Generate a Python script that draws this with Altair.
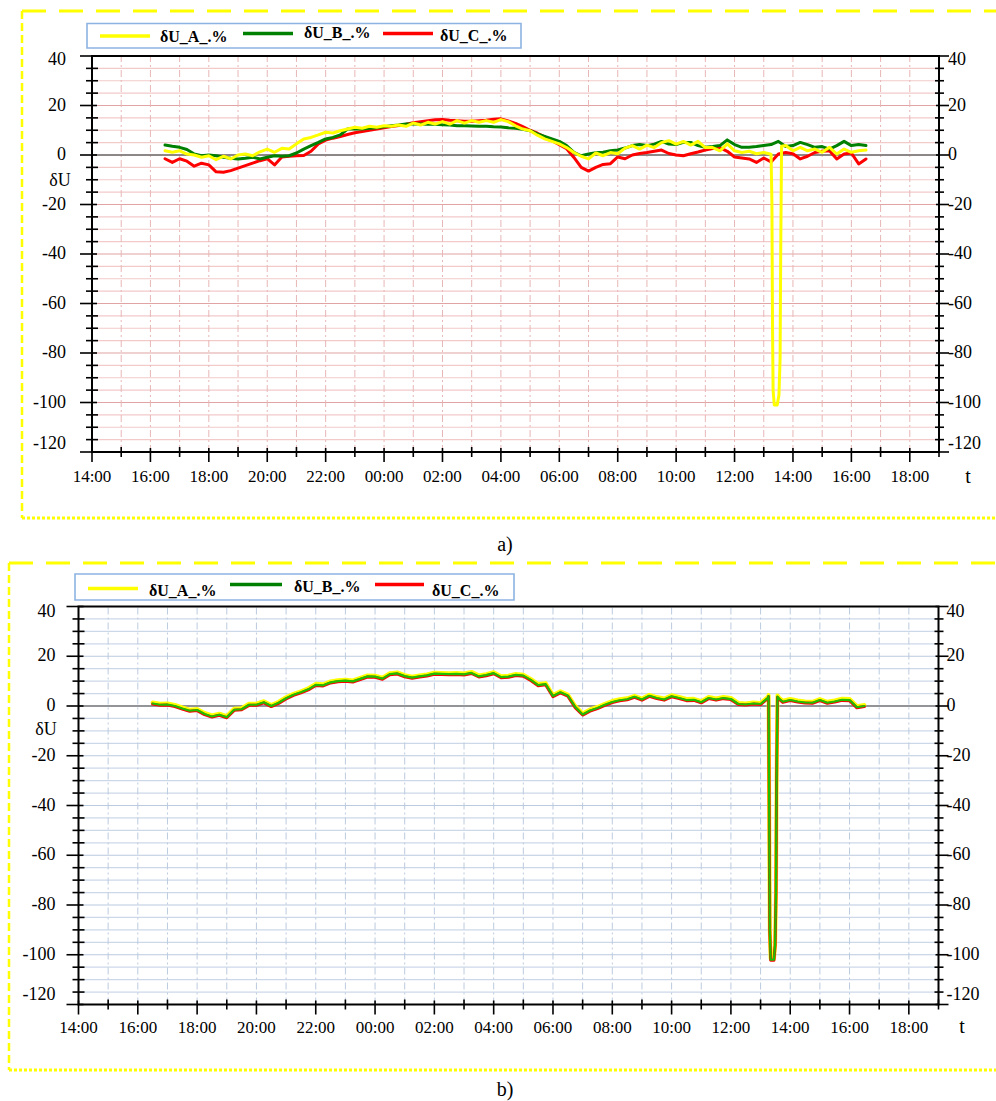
import altair as alt
import pandas as pd

FONT = "Liberation Serif, Times New Roman, DejaVu Serif, serif"

# Logger clock: first reading at 16:30, one reading every 15 minutes.
# Hours are counted from midnight of the first day (25.0 = 01:00 next day).
START_H = 16.5
STEP_H = 0.25

# ---------------- a) deviations of phase voltages, % ----------------
# one row = one hour of readings
DU_A_PANEL_A = [
    1.7, 1.1, 1.7, 0.4,
    0.0, -0.9, -0.3, -1.9,
    -0.5, -1.6, 0.0, 0.4,
    -0.3, 1.3, 2.4, 1.1,
    2.7, 2.4, 4.5, 6.5,
    7.1, 8.1, 9.2, 8.9,
    9.8, 10.5, 11.2, 10.8,
    11.6, 11.2, 11.8, 11.6,
    12.1, 11.6, 12.9, 12.1,
    13.2, 12.5, 13.5, 12.5,
    13.9, 12.9, 13.9, 13.2,
    13.9, 13.2, 14.3, 13.5,
    11.8, 10.5, 9.8, 8.0,
    6.5, 5.5, 4.5, 3.0,
    1.0, -0.5, -1.6, 0.8,
    -0.3, 1.0, 0.5, 2.8,
    3.8, 2.4, 4.0, 3.0,
    5.0, 5.8, 4.4, 5.5,
    4.0, 5.5, 3.0, 3.0,
    1.7, 4.5, 1.7, 1.0,
    1.5, 0.5, 1.0, 0.3,
    None, 3.8, 1.7, 3.1,
    1.7, 2.4, 1.1, 3.1,
    0.4, 2.4, 1.1, 1.7,
    2.0,
]
# supply interruption on phase A (extra readings)
DIP_A_PANEL_A_H = [37.28, 37.30, 37.32, 37.36, 37.46, 37.52, 37.56, 37.58, 37.61]
DIP_A_PANEL_A_V = [-20, -70, -95, -101, -101, -97, -82, -40, 3.5]

DU_B_PANEL_A = [
    4.0, 3.5, 3.1, 2.2,
    0.4, -0.3, 0.0, -0.3,
    -0.9, -1.3, -1.6, -1.3,
    -0.9, -1.6, -0.9, -0.3,
    -0.5, -0.3, 0.8, 2.4,
    3.8, 5.1, 6.5, 7.1,
    8.1, 10.5, 10.5, 10.5,
    10.8, 11.0, 11.4, 11.8,
    12.1, 12.5, 12.5, 12.5,
    12.4, 12.4, 12.2, 12.1,
    11.8, 11.8, 11.7, 11.6,
    11.6, 11.4, 11.3, 11.0,
    10.8, 10.4, 9.8, 8.5,
    7.5, 6.5, 5.5, 3.8,
    1.1, -0.3, 0.4, 0.9,
    1.1, 1.7, 2.0, 2.8,
    3.8, 4.2, 3.8, 4.4,
    5.5, 4.4, 4.2, 5.1,
    5.1, 3.8, 3.1, 3.4,
    3.8, 6.1, 4.2, 3.1,
    3.1, 3.4, 3.8, 4.2,
    5.5, 3.4, 3.8, 5.1,
    4.2, 3.1, 3.4, 2.4,
    3.8, 5.5, 3.8, 4.2,
    3.8,
]

DU_C_PANEL_A = [
    -1.5, -3.0, -1.5, -2.5,
    -4.5, -3.3, -4.0, -6.8,
    -7.0, -6.3, -5.3, -4.3,
    -3.3, -2.3, -1.5, -4.0,
    -0.8, -0.5, -0.3, -0.2,
    1.5, 4.5, 6.0, 6.8,
    7.5, 8.3, 9.0, 9.5,
    10.0, 10.5, 11.0, 11.5,
    11.9, 12.4, 13.0, 13.4,
    13.8, 14.2, 14.3, 14.0,
    13.8, 13.6, 13.6, 13.8,
    14.0, 14.4, 14.6, 13.8,
    12.8, 11.5, 10.0, 8.8,
    7.3, 5.8, 4.2, 2.5,
    -1.0, -5.0, -6.5, -5.0,
    -3.8, -3.5, -0.8, -1.5,
    0.0, 0.6, 1.0, 1.5,
    2.0, 0.6, 0.0, -0.3,
    0.5, 1.2, 2.0, 2.6,
    3.0, 1.5, -0.8, -1.2,
    -1.6, -3.0, -1.2, -2.8,
    0.4, 1.0, 0.5, -1.6,
    -0.5, 1.0, 1.5, 1.7,
    -1.6, 0.4, 0.8, -3.6,
    -1.6,
]

# ---------------- b) after correction: the three phases coincide ----------------
DU_PANEL_B = [
    1.0, 0.5, 0.6, 0.0,
    -1.0, -1.9, -1.6, -3.2,
    -4.2, -3.5, -4.5, -1.5,
    -1.3, 0.5, 0.5, 1.5,
    0.0, 1.3, 3.1, 4.5,
    5.5, 6.7, 8.5, 8.3,
    9.5, 10.0, 10.2, 9.9,
    10.9, 11.9, 11.8, 11.0,
    12.8, 13.1, 12.0, 11.4,
    11.9, 12.3, 13.0, 12.9,
    12.8, 12.9, 12.7, 13.3,
    11.9, 12.4, 13.2, 11.6,
    11.8, 12.5, 12.2, 10.5,
    8.4, 8.8, 4.0, 5.5,
    4.2, -0.4, -3.4, -1.8,
    -0.8, 0.5, 1.6, 2.3,
    2.7, 3.7, 2.6, 4.1,
    3.2, 2.6, 3.9, 3.2,
    2.4, 2.5, 1.5, 3.2,
    2.6, 3.2, 2.8, 0.8,
    0.6, 1.0, 0.8, 3.3,
    None, 1.7, 2.4, 1.8,
    1.4, 1.3, 2.4, 1.3,
    1.8, 2.5, 2.4, -0.5,
    0.0,
]
DIP_PANEL_B_H = [37.27, 37.29, 37.31, 37.34, 37.45, 37.49, 37.52, 37.54, 37.57, 37.62]
DIP_PANEL_B_V = [4.0, -40, -90, -102, -102, -96, -75, -30, 3.8, 3.0]

# ---------------- axes ----------------
X_DOMAIN = [14, 43]
Y_DOMAIN = [-120, 40]
HOUR_TICKS = list(range(14, 44))
LABEL_HOURS = list(range(14, 43, 2))
LABEL_TEXT = ["14:00", "16:00", "18:00", "20:00", "22:00", "00:00", "02:00", "04:00",
              "06:00", "08:00", "10:00", "12:00", "14:00", "16:00", "18:00"]
Y_MAJOR = [40, 20, 0, -20, -40, -60, -80, -100, -120]
Y_MINOR = [v for v in range(-115, 40, 5) if v % 20 != 0]

ONE = pd.DataFrame({"k": [0]})


def series_frame(values, dip_h=(), dip_v=()):
    hours = [START_H + STEP_H * i for i in range(len(values))]
    rows = [(h, v) for h, v in zip(hours, values) if v is not None]
    rows += list(zip(dip_h, dip_v))
    rows.sort()
    return pd.DataFrame(rows, columns=["h", "v"])


def panel(cfg, series):
    xs = alt.Scale(domain=X_DOMAIN, range=[cfg["left"], cfg["right"]], nice=False, zero=False)
    ys = alt.Scale(domain=Y_DOMAIN, range=[cfg["bottom"], cfg["top"]], nice=False, zero=False)

    def X(field="h"):
        return alt.X(f"{field}:Q", scale=xs, axis=None)

    def Y(field="v"):
        return alt.Y(f"{field}:Q", scale=ys, axis=None)

    def XD(val):
        return alt.XDatum(val, type="quantitative", scale=xs, axis=None)

    def YD(val):
        return alt.YDatum(val, type="quantitative", scale=ys, axis=None)

    layers = []
    # horizontal grid every 5 %, darker every 20 %
    hg_major = [v for v in Y_MAJOR if -120 < v < 40]
    layers.append(alt.Chart(pd.DataFrame({"v": Y_MINOR})).mark_rule(
        color=cfg["hgrid_minor"], strokeWidth=1.2).encode(y=Y(), x=XD(14), x2=alt.datum(43)))
    layers.append(alt.Chart(pd.DataFrame({"v": hg_major})).mark_rule(
        color=cfg["hgrid_major"], strokeWidth=1.2).encode(y=Y(), x=XD(14), x2=alt.datum(43)))
    # vertical dashed grid every hour
    layers.append(alt.Chart(pd.DataFrame({"h": HOUR_TICKS[1:-1]})).mark_rule(
        color=cfg["vgrid"], strokeWidth=1, strokeDash=[7, 3, 2, 3]).encode(
        x=X(), y=YD(-120), y2=alt.datum(40)))
    # zero line
    layers.append(alt.Chart(ONE).mark_rule(color=cfg["zero"], strokeWidth=1.6).encode(
        y=YD(0), x=XD(14), x2=alt.datum(43)))
    # measured series
    for frame, color, width, yoff in series:
        layers.append(alt.Chart(frame).mark_line(
            color=color, strokeWidth=width, yOffset=yoff, strokeJoin="round", strokeCap="round").encode(
            x=X(), y=Y(), order=alt.Order("h:Q")))
    # plot frame
    layers.append(alt.Chart(ONE).mark_rect(fillOpacity=0, stroke="black", strokeWidth=2).encode(
        x=XD(14), x2=alt.datum(43), y=YD(-120), y2=alt.datum(40)))
    # left / right ticks crossing the axis lines
    maj = pd.DataFrame({"v": Y_MAJOR})
    mnr = pd.DataFrame({"v": Y_MINOR})
    layers.append(alt.Chart(maj).mark_rule(color="black", strokeWidth=1.6, xOffset=-12, x2Offset=5).encode(
        y=Y(), x=XD(14), x2=alt.datum(14)))
    layers.append(alt.Chart(mnr).mark_rule(color="black", strokeWidth=1.6, xOffset=-6, x2Offset=6).encode(
        y=Y(), x=XD(14), x2=alt.datum(14)))
    layers.append(alt.Chart(maj).mark_rule(color="black", strokeWidth=1.6, xOffset=-3, x2Offset=10).encode(
        y=Y(), x=XD(43), x2=alt.datum(43)))
    layers.append(alt.Chart(mnr).mark_rule(color="black", strokeWidth=1.6, xOffset=-4, x2Offset=5).encode(
        y=Y(), x=XD(43), x2=alt.datum(43)))
    # bottom ticks: every hour, longer on labelled hours
    even = pd.DataFrame({"h": [h for h in HOUR_TICKS if h % 2 == 0]})
    odd = pd.DataFrame({"h": [h for h in HOUR_TICKS if h % 2 == 1]})
    layers.append(alt.Chart(even).mark_rule(color="black", strokeWidth=1.6, yOffset=-4, y2Offset=10).encode(
        x=X(), y=YD(-120), y2=alt.datum(-120)))
    layers.append(alt.Chart(odd).mark_rule(color="black", strokeWidth=1.6, yOffset=-5, y2Offset=5).encode(
        x=X(), y=YD(-120), y2=alt.datum(-120)))
    # y tick labels on both sides (end labels kept inside the frame height)
    ylab = pd.DataFrame({"v": Y_MAJOR, "lab": [str(v) for v in Y_MAJOR]})
    for xval, align, dx in ((14, "right", cfg["ldx"]), (43, "left", cfg["rdx"])):
        for cond, dy in (("datum.v == 40", cfg["topdy"]),
                         ("datum.v == -120", cfg["botdy"]),
                         ("datum.v > -120 && datum.v < 40", 0)):
            layers.append(alt.Chart(ylab).transform_filter(cond).mark_text(
                font=FONT, fontSize=18, align=align, baseline="middle", dx=dx, dy=dy, color="black").encode(
                y=Y(), x=XD(xval), text="lab:N"))
    # time labels
    xlab = pd.DataFrame({"h": LABEL_HOURS, "lab": LABEL_TEXT})
    layers.append(alt.Chart(xlab).mark_text(
        font=FONT, fontSize=17, align="center", baseline="middle", dy=cfg["xdy"], color="black").encode(
        x=X(), y=YD(-120), text="lab:N"))
    return alt.layer(*layers)


def hline(x1, x2, y, **mk):
    return alt.Chart(ONE).mark_rule(**mk).encode(x=alt.value(x1), x2=alt.value(x2), y=alt.value(y))


def vline(x, y1, y2, **mk):
    return alt.Chart(ONE).mark_rule(**mk).encode(x=alt.value(x), y=alt.value(y1), y2=alt.value(y2))


def text_at(x, y, text, **mk):
    return alt.Chart(ONE).mark_text(**mk).encode(x=alt.value(x), y=alt.value(y), text=alt.value(text))


def legend(box, items):
    x1, x2, y1, y2 = box
    parts = [alt.Chart(ONE).mark_rect(fill="white", stroke="#8DB3E2", strokeWidth=1.6).encode(
        x=alt.value(x1), x2=alt.value(x2), y=alt.value(y1), y2=alt.value(y2))]
    for (lx1, lx2, ly, color, tx, ty, label) in items:
        parts.append(hline(lx1, lx2, ly, color=color, strokeWidth=3.5))
        parts.append(text_at(tx, ty, label, font=FONT, fontSize=16, fontWeight="bold",
                             align="left", baseline="middle", color="black"))
    return parts


CFG_A = dict(left=92, right=939, top=56, bottom=452,
             hgrid_minor="#F2CACA", hgrid_major="#E0A4A4", vgrid="#E8B6B6", zero="#6E6E6E",
             ldx=-26, rdx=9, topdy=4, botdy=-8, xdy=25)
CFG_B = dict(left=78.5, right=938.5, top=606.5, bottom=1004.5,
             hgrid_minor="#CCD8E8", hgrid_major="#BACADF", vgrid="#BCCBDF", zero="#7A7A7A",
             ldx=-23, rdx=8, topdy=5, botdy=-10, xdy=23)

panel_a = panel(CFG_A, [
    (series_frame(DU_C_PANEL_A), "#FF0000", 3, 0),
    (series_frame(DU_B_PANEL_A), "#008000", 3, 0),
    (series_frame(DU_A_PANEL_A, DIP_A_PANEL_A_H, DIP_A_PANEL_A_V), "#FFFF00", 3, 0),
])

frame_b = series_frame(DU_PANEL_B, DIP_PANEL_B_H, DIP_PANEL_B_V)
panel_b = panel(CFG_B, [
    (frame_b, "#FFFF00", 4, -1),
    (frame_b, "#FF0000", 3, 0.6),
    (frame_b, "#1FBF00", 2.2, 0),
])

YELLOW = "#FFFF00"
decor = [
    # dashed frames around both figures
    hline(22, 996, 11, color=YELLOW, strokeWidth=3, strokeDash=[24, 13]),
    vline(22, 11, 518, color=YELLOW, strokeWidth=2.5, strokeDash=[8, 4]),
    hline(22, 996, 518, color=YELLOW, strokeWidth=3, strokeDash=[3, 2]),
    hline(9, 996, 563, color=YELLOW, strokeWidth=3, strokeDash=[24, 13]),
    vline(9, 563, 1070, color=YELLOW, strokeWidth=2.5, strokeDash=[8, 4]),
    hline(9, 996, 1070, color=YELLOW, strokeWidth=3, strokeDash=[3, 2]),
    # axis titles
    text_at(60, 181, "δU", font=FONT, fontSize=18, align="center", baseline="middle", color="black"),
    text_at(968, 477, "t", font=FONT, fontSize=20, align="center", baseline="middle", color="black"),
    text_at(46, 730, "δU", font=FONT, fontSize=18, align="center", baseline="middle", color="black"),
    text_at(962, 1027, "t", font=FONT, fontSize=20, align="center", baseline="middle", color="black"),
    # figure captions
    text_at(505, 545, "a)", font=FONT, fontSize=20, align="center", baseline="middle", color="black"),
    text_at(505, 1090, "b)", font=FONT, fontSize=20, align="center", baseline="middle", color="black"),
]
decor += legend((87, 521, 23.5, 48), [
    (100, 150, 36, "#FFFF00", 160, 37, "δU_A_.%"),
    (243, 293, 33.5, "#008000", 304, 33, "δU_B_.%"),
    (383, 433, 33.5, "#FF0000", 440, 36, "δU_C_.%"),
])
decor += legend((75, 514, 574, 600), [
    (88, 138, 588.5, "#FFFF00", 149, 591, "δU_A_.%"),
    (230, 282, 584.5, "#008000", 294, 587, "δU_B_.%"),
    (375, 424, 584.5, "#FF0000", 432, 591, "δU_C_.%"),
])

chart = alt.layer(panel_a, panel_b, *decor).resolve_scale(
    x="independent", y="independent"
).properties(
    width=996, height=1101, padding=0,
    autosize=alt.AutoSizeParams(type="none"),
    background="white",
).configure_view(stroke=None)

chart.save("out.html", embed_options={"renderer": "svg", "actions": False})
